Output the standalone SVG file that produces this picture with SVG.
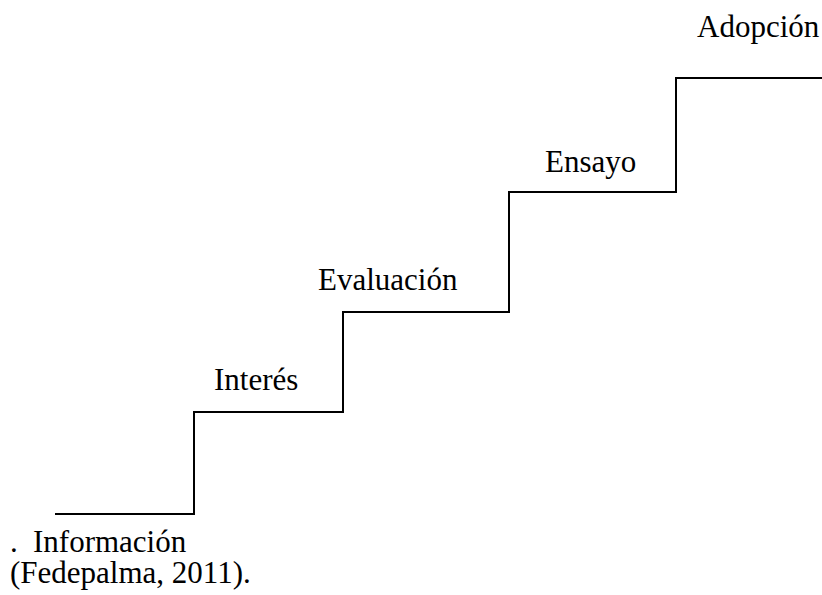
<svg xmlns="http://www.w3.org/2000/svg" width="822" height="595" viewBox="0 0 822 595">
<style>
.s{fill:none;stroke:#000;stroke-width:2}
</style>
<rect width="822" height="595" fill="#fff"/>
<g id="connectors">
<path class="s" d="M55,514 H194 V412 H343 V312 H509 V192 H676 V78 H822"/>
</g>
<g id="informacion"><text x="10" y="552" font-family="Liberation Serif" font-size="31">.</text><text x="33" y="552" font-family="Liberation Serif" font-size="31">Información</text></g>
<g id="interes"><text x="214" y="390" font-family="Liberation Serif" font-size="31">Interés</text></g>
<g id="evaluacion"><text x="318" y="290" font-family="Liberation Serif" font-size="31">Evaluación</text></g>
<g id="ensayo"><text x="545" y="172" font-family="Liberation Serif" font-size="31">Ensayo</text></g>
<g id="adopcion"><text x="697" y="37" font-family="Liberation Serif" font-size="31">Adopción</text></g>
<g id="source"><text x="10" y="583" font-family="Liberation Serif" font-size="31">(Fedepalma, 2011).</text></g>
</svg>
